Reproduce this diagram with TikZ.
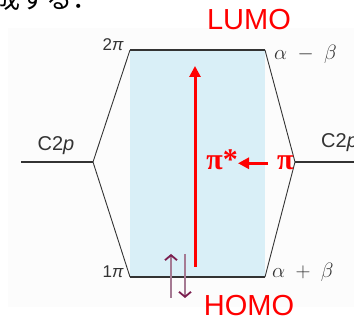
\documentclass[tikz,border=0pt]{standalone}
\usepackage{fontspec}
\setmainfont{Liberation Sans}
\newfontfamily\jpfont{Noto Sans CJK JP}
\newfontfamily\serifface{Liberation Serif}
\usetikzlibrary{arrows.meta}
\definecolor{panelblue}{HTML}{D9EFF7}
\definecolor{levelgray}{HTML}{333333}
\definecolor{elpurple}{HTML}{7B1E4F}
\definecolor{elshaft}{HTML}{A57A93}
\definecolor{bgpanel}{HTML}{FCFCFC}
\begin{document}
\begin{tikzpicture}[x=1pt,y=-1pt,
  level/.style={line width=2pt, draw=levelgray},
  diag/.style={line width=0.9pt, draw=levelgray, line join=miter},
  lbl/.style={font=\fontsize{17}{17}\selectfont, text=levelgray, inner sep=0pt},
  clbl/.style={font=\fontsize{20}{20}\selectfont, text=levelgray, inner sep=0pt},
  mlbl/.style={font=\fontsize{21}{21}\selectfont, text=levelgray, inner sep=0pt},
  redlbl/.style={font=\fontsize{29}{29}\selectfont, text=red, inner sep=0pt},
  pilbl/.style={font=\serifface\bfseries\fontsize{30}{30}\selectfont, text=red, inner sep=0pt},
  redarrow/.style={draw=red, line width=3pt, -{Triangle[length=11pt,width=11pt]}},
  elarrow/.style={draw=elshaft, line width=1.6pt, -{Straight Barb[length=5pt,width=12pt,line width=1.8pt,color=elpurple]}}
]
\useasboundingbox (0,0) rectangle (354,320);
\fill[bgpanel] (8,28) rectangle (354,307);
\node[font=\jpfont\fontsize{26}{26}\selectfont, anchor=base west, inner sep=0pt] (jp) at (-6,9) {成する．};
\fill[panelblue] (130,50) rectangle (265,277);
\coordinate (t1) at (130,50);
\coordinate (t2) at (265,50);
\coordinate (b1) at (130,277);
\coordinate (b2) at (265,277);
\coordinate (lv) at (93,162);
\coordinate (lend) at (21,162);
\coordinate (rv) at (295,162);
\coordinate (rend) at (360,162);
\draw[diag] (t1) -- (lv) -- (b1);
\draw[diag] (t2) -- (rv) -- (b2);
\draw[level] (t1) -- (t2);
\draw[level] (b1) -- (b2);
\draw[level] (lend) -- (lv);
\draw[level] (rv) -- (rend);
\node[lbl, anchor=east] (l2pi) at (124,45) {2\textit{π}};
\node[lbl, anchor=east] (l1pi) at (124,272) {1\textit{π}};
\node[clbl] (c2pl) at (56,146) {C2\textit{p}};
\node[clbl, anchor=west] (c2pr) at (321,143) {C2\textit{p}};
\node[mlbl, anchor=west] (amb) at (274,54) {$\alpha\;-\;\beta$};
\node[mlbl, anchor=west] (apb) at (272,272) {$\alpha\;+\;\beta$};
\node[redlbl] (lumo) at (249,20) {LUMO};
\node[redlbl] (homo) at (249,306) {HOMO};
\coordinate (ra0) at (195,267);
\coordinate (ra1) at (195,66);
\draw[redarrow] (ra0) -- (ra1);
\node[pilbl, anchor=base east] (pistar) at (238,170) {π*};
\node[pilbl, anchor=base west] (pi) at (277,170) {π};
\draw[redarrow] ([xshift=-9pt]pi.west) -- (pi.west -| pistar.east);
\coordinate (eu0) at (171,298);
\coordinate (eu1) at (171,254);
\coordinate (ed0) at (185,254);
\coordinate (ed1) at (185,298);
\draw[elarrow] (eu0) -- (eu1);
\draw[elarrow] (ed0) -- (ed1);
\end{tikzpicture}
\end{document}
